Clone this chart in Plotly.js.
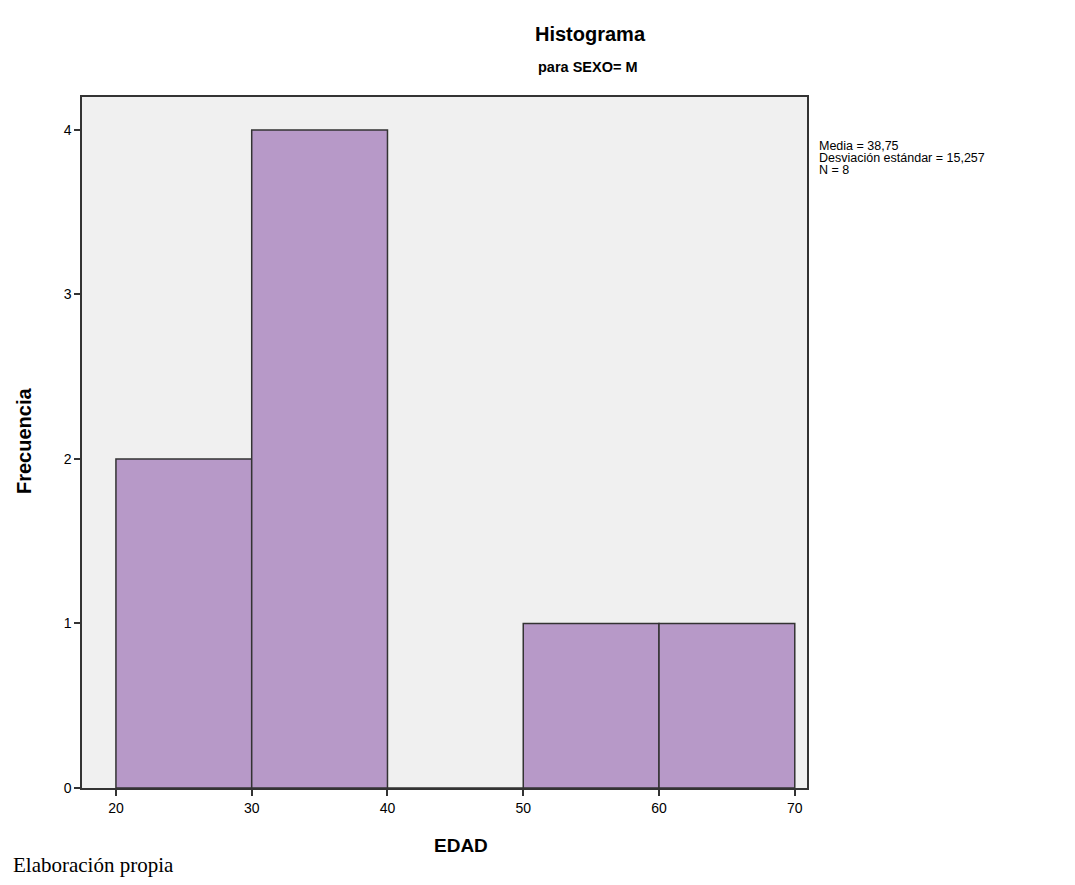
<!DOCTYPE html>
<html>
<head>
<meta charset="utf-8">
<script src="https://cdn.plot.ly/plotly-3.0.1.min.js"></script>
<style>html,body{margin:0;padding:0;background:#fff;}#chart{width:1075px;height:885px;}</style>
</head>
<body>
<div id="chart"></div>
<script>
// Data
const binStarts = [20, 30, 40, 50, 60];
const binWidth = 10;
const counts = [2, 4, 0, 1, 1];
const xTicks = [20, 30, 40, 50, 60, 70];
const yTicks = [0, 1, 2, 3, 4];
const statsLines = ["Media = 38,75", "Desviación estándar = 15,257", "N = 8"];
const titleText = "Histograma";
const subtitleText = "para SEXO= M";
const xTitle = "EDAD";
const yTitle = "Frecuencia";
const sourceNote = "Elaboración propia";

const centers = binStarts.map(b => b + binWidth / 2);

const trace = {
  type: 'bar',
  x: centers,
  y: counts,
  width: binStarts.map(() => binWidth),
  marker: {color: '#b799c8', line: {color: '#333333', width: 1.5}},
  hoverinfo: 'x+y'
};

const W = 1075, H = 885;
const L = 82, R = 268, T = 97, B = 97;
const pw = W - L - R, ph = H - T - B;
// helpers converting page pixels to paper coordinates (for text placement only)
const px = x => (x - L) / pw;
const py = y => (H - B - y) / ph;

const sans = 'Liberation Sans, Arial, sans-serif';

const annotations = [
  {text: '<b>' + titleText + '</b>', x: px(590), y: py(34), font: {size: 20, family: sans, color: '#000'}, xanchor: 'center', yanchor: 'middle'},
  {text: '<b>' + subtitleText + '</b>', x: px(588), y: py(67), font: {size: 14.5, family: sans, color: '#000'}, xanchor: 'center', yanchor: 'middle'},
  {text: '<b>' + xTitle + '</b>', x: px(461), y: py(846), font: {size: 19, family: sans, color: '#000'}, xanchor: 'center', yanchor: 'middle'},
  {text: '<b>' + yTitle + '</b>', x: px(24), y: py(441), textangle: -90, font: {size: 20, family: sans, color: '#000'}, xanchor: 'center', yanchor: 'middle'},
  {text: sourceNote, x: px(11), y: py(865), font: {size: 21, family: 'Liberation Serif, Times New Roman, serif', color: '#000'}, xanchor: 'left', yanchor: 'middle'}
];
statsLines.forEach((s, i) => {
  annotations.push({text: s, x: px(817), y: py(146 + i * 12), font: {size: 12.5, family: sans, color: '#000'}, xanchor: 'left', yanchor: 'middle'});
});
annotations.forEach(a => { a.xref = 'paper'; a.yref = 'paper'; a.showarrow = false; a.align = 'left'; });

const layout = {
  width: W, height: H,
  paper_bgcolor: '#ffffff',
  plot_bgcolor: '#f0f0f0',
  margin: {l: L, r: R, t: T, b: B},
  showlegend: false,
  font: {family: sans, color: '#000'},
  xaxis: {
    range: [17.5, 70.9],
    tickvals: xTicks,
    ticks: 'outside', ticklen: 6, tickwidth: 1.5, tickcolor: '#333',
    showline: true, linecolor: '#333', linewidth: 1.5, mirror: true,
    showgrid: false, zeroline: false,
    tickfont: {size: 14, color: '#000'}
  },
  yaxis: {
    range: [0, 4.2],
    tickvals: yTicks,
    ticks: 'outside', ticklen: 6, tickwidth: 1.5, tickcolor: '#333',
    showline: true, linecolor: '#333', linewidth: 1.5, mirror: true,
    showgrid: false, zeroline: false,
    tickfont: {size: 14, color: '#000'}
  },
  annotations: annotations
};

Plotly.newPlot('chart', [trace], layout, {displayModeBar: false});
</script>
</body>
</html>
